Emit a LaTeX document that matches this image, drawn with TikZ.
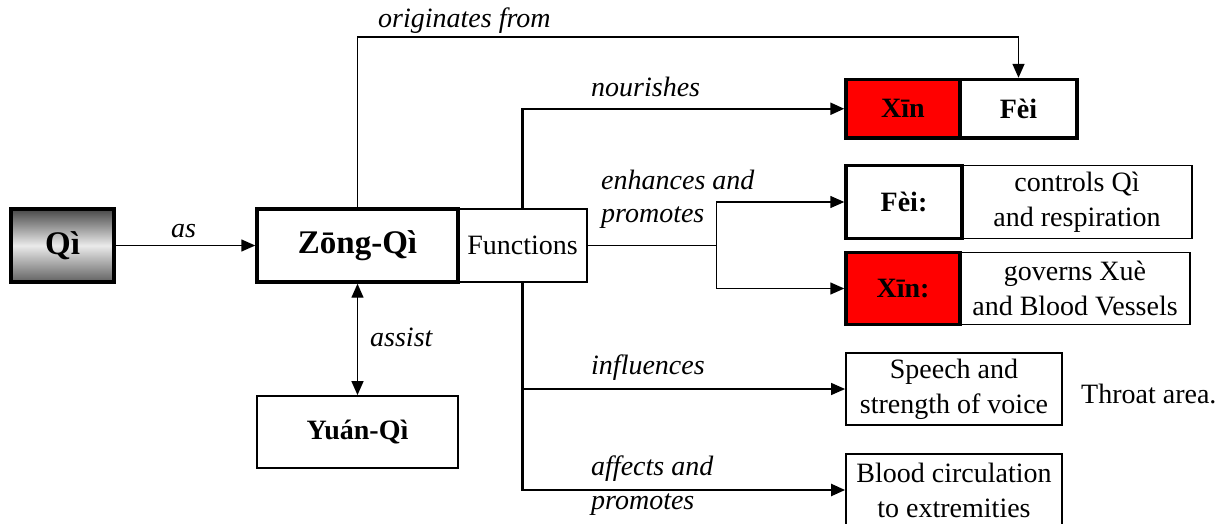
\documentclass[tikz,border=0pt]{standalone}
\usepackage{fontspec}
\setmainfont{LiberationSerif}[Extension=.ttf, UprightFont=*-Regular, BoldFont=*-Bold, ItalicFont=*-Italic, BoldItalicFont=*-BoldItalic]
\usetikzlibrary{arrows.meta}
\definecolor{heartred}{RGB}{255,0,0}
\begin{document}
\begin{tikzpicture}[x=1pt,y=-1pt,
  txt/.style={font=\rmfamily\fontsize{28}{35}\selectfont, align=center, inner sep=0pt},
  big/.style={font=\rmfamily\bfseries\fontsize{33}{38}\selectfont, inner sep=0pt},
  bld/.style={font=\rmfamily\bfseries\fontsize{28}{34}\selectfont, inner sep=0pt},
  lbl/.style={font=\rmfamily\itshape\fontsize{28}{34}\selectfont, inner sep=0pt},
  thickbox/.style={draw, line width=3.4pt},
  thinbox/.style={draw, line width=1.4pt},
  midbox/.style={draw, line width=1.8pt},
  arr/.style={line width=1.4pt, -{Triangle[length=14pt,width=12pt]}},
  dblarr/.style={line width=1.4pt, {Triangle[length=14pt,width=12pt]}-{Triangle[length=14pt,width=12pt]}},
  heavy/.style={line width=2.3pt},
  plain/.style={line width=1.4pt}]
\useasboundingbox (0,0) rectangle (1228,524);

% left column
\node[thickbox, big, minimum width=103pt, minimum height=73pt,
      top color=black!72, bottom color=black!62, middle color=black!8]
      (qi) at (62.5,245.5) {Qì};
\node[thickbox, big, minimum width=201pt, minimum height=73pt] (zq) at (357.5,245.5) {Zōng-Qì};
\node[thinbox, txt, minimum width=129pt, minimum height=73pt] (fn) at (522.5,245.5) {Functions};
\node[midbox, bld, minimum width=201pt, minimum height=72pt] (yq) at (357.5,432) {Yuán-Qì};

% right column
\node[thickbox, bld, fill=heartred, minimum width=114pt, minimum height=58.5pt] (xin1) at (903,108.75) {Xīn};
\node[thickbox, bld, minimum width=117pt, minimum height=58.5pt] (fei1) at (1018.5,108.75) {Fèi};

\node[thinbox, txt, minimum width=230pt, minimum height=72.5pt] (ctrl) at (1077,202) {controls Qì\\and respiration};
\node[thickbox, bld, minimum width=116pt, minimum height=72.5pt] (fei2) at (904,202) {Fèi:};

\node[thinbox, txt, minimum width=230pt, minimum height=72pt] (gov) at (1075,288.5) {governs Xuè\\and Blood Vessels};
\node[thickbox, bld, fill=heartred, minimum width=114pt, minimum height=72pt] (xin2) at (903,288.5) {Xīn:};

\node[midbox, txt, minimum width=216pt, minimum height=72.5pt] (speech) at (954,389) {Speech and\\strength of voice};
\node[txt, anchor=base west] (throat) at (1081,403) {Throat area.};
\node[midbox, txt, minimum width=216pt, minimum height=72pt] (blood) at (954,490) {Blood circulation\\to extremities};

% connectors
\draw[arr] (qi.east) -- (zq.west);
\draw[dblarr] (zq.south) -- (yq.north);

\coordinate (otop) at (1018.5,37);
\draw[arr] (zq.north) |- (otop) -- (fei1.north);

\draw[arr, heavy] (fn.north) |- (xin1.west);

\coordinate (split) at (716.5,245.5);
\draw[plain] (fn.east) -- (split);
\draw[arr] (split) |- (fei2.west);
\draw[arr] (split) |- (xin2.west);

\draw[arr] (fn.south) |- (speech.west);
\draw[arr, heavy] (fn.south) |- (blood.west);

% edge labels
\node[lbl, anchor=base] (l-as) at (183.5,237) {as};
\node[lbl, anchor=base west] (l-orig) at (378,28) {originates from};
\node[lbl, anchor=base west] (l-nour) at (591,97) {nourishes};
\node[lbl, anchor=base west] (l-enh) at (601,189) {enhances and};
\node[lbl, anchor=base west] (l-enh2) at (601,222) {promotes};
\node[lbl, anchor=base west] (l-assist) at (370,346) {assist};
\node[lbl, anchor=base west] (l-infl) at (591,374) {influences};
\node[lbl, anchor=base west] (l-aff) at (591,475) {affects and};
\node[lbl, anchor=base west] (l-aff2) at (591,509) {promotes};
\end{tikzpicture}
\end{document}
